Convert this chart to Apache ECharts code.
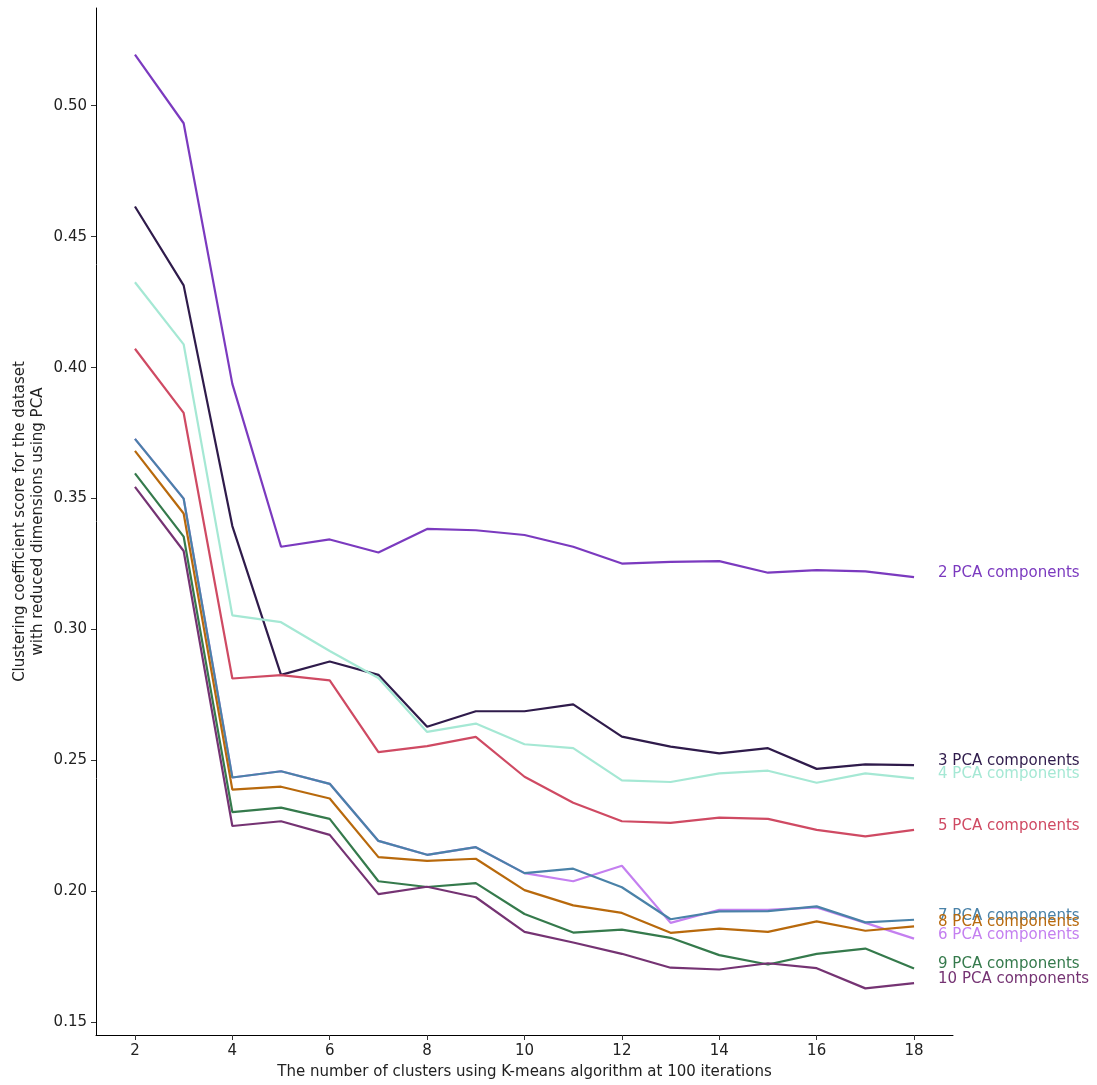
<!DOCTYPE html>
<html>
<head>
<meta charset="utf-8">
<script src="https://cdn.jsdelivr.net/npm/echarts@6/dist/echarts.min.js"></script>
<style>html,body{margin:0;padding:0;background:#fff;}#chart{width:1097px;height:1085px;}</style>
</head>
<body>
<div id="chart"></div>
<script>
var clusters = [2,3,4,5,6,7,8,9,10,11,12,13,14,15,16,17,18];
var xTicks = [2,4,6,8,10,12,14,16,18];
var yTicks = [0.15,0.20,0.25,0.30,0.35,0.40,0.45,0.50];
var seriesNames = ['2 PCA components','3 PCA components','4 PCA components','5 PCA components','6 PCA components','7 PCA components','8 PCA components','9 PCA components','10 PCA components'];
var colors = ['#7b3abf','#2f1b4b','#a5e8d4','#cf4a63','#c47ff0','#4a82a8','#b8690c','#357a4c','#753373'];

var pca2  = [0.5195,0.4933,0.3938,0.3316,0.3344,0.3294,0.3384,0.3379,0.3361,0.3316,0.3252,0.3258,0.3261,0.3217,0.3227,0.3222,0.3200];
var pca3  = [0.4615,0.4314,0.3395,0.2827,0.2878,0.2827,0.2629,0.2688,0.2688,0.2714,0.2591,0.2553,0.2527,0.2547,0.2468,0.2485,0.2482];
var pca4  = [0.4326,0.4089,0.3054,0.3028,0.2918,0.2815,0.2609,0.2641,0.2562,0.2547,0.2424,0.2418,0.2451,0.2461,0.2415,0.2451,0.2432];
var pca5  = [0.4072,0.3827,0.2813,0.2826,0.2806,0.2532,0.2555,0.2590,0.2438,0.2339,0.2268,0.2262,0.2282,0.2277,0.2235,0.2210,0.2235];
var pca6  = [0.3728,0.3500,0.2435,0.2459,0.2411,0.2193,0.2140,0.2169,0.2070,0.2039,0.2098,0.1880,0.1930,0.1930,0.1939,0.1880,0.1820];
var pca7  = [0.3728,0.3500,0.2435,0.2459,0.2411,0.2193,0.2140,0.2169,0.2070,0.2087,0.2016,0.1894,0.1924,0.1925,0.1943,0.1882,0.1892];
var pca8  = [0.3682,0.3443,0.2389,0.2400,0.2355,0.2131,0.2117,0.2125,0.2005,0.1947,0.1918,0.1842,0.1858,0.1846,0.1886,0.1850,0.1867];
var pca9  = [0.3596,0.3355,0.2303,0.2320,0.2277,0.2039,0.2017,0.2032,0.1914,0.1843,0.1854,0.1823,0.1757,0.1721,0.1762,0.1782,0.1706];
var pca10 = [0.3545,0.3300,0.2250,0.2268,0.2216,0.1990,0.2018,0.1978,0.1846,0.1805,0.1762,0.1709,0.1702,0.1726,0.1707,0.1630,0.1650];

var allValues = [pca2,pca3,pca4,pca5,pca6,pca7,pca8,pca9,pca10];
var FONT = 'DejaVu Sans';

var series = allValues.map(function(vals, i){
  return {
    name: seriesNames[i],
    type: 'line',
    data: clusters.map(function(c, j){ return [c, vals[j]]; }),
    showSymbol: false,
    symbol: 'none',
    lineStyle: { width: 2.2, color: colors[i] },
    itemStyle: { color: colors[i] },
    z: 2 + i,
    animation: false,
    endLabel: {
      show: true,
      formatter: '{a}',
      color: colors[i],
      fontFamily: FONT,
      fontSize: 15,
      distance: 24,
      offset: [0, -4]
    }
  };
});

var chart = echarts.init(document.getElementById('chart'), null, {renderer: 'canvas'});
chart.setOption({
  backgroundColor: '#ffffff',
  animation: false,
  grid: { left: 96, right: 144, top: 8, bottom: 48, containLabel: false },
  xAxis: {
    type: 'value',
    min: 1.2, max: 18.8,
    name: 'The number of clusters using K-means algorithm at 100 iterations',
    nameLocation: 'middle',
    nameGap: 30,
    nameMoveOverlap: false,
    nameTextStyle: { fontFamily: FONT, fontSize: 15, color: '#222' },
    axisLine: { show: true, lineStyle: { color: '#000', width: 1 } },
    axisTick: { show: true, length: 5, lineStyle: { color: '#333' }, customValues: xTicks },
    axisLabel: { fontFamily: FONT, fontSize: 15, color: '#222', margin: 9, customValues: xTicks,
      formatter: function(v){ return String(v); } },
    splitLine: { show: false }
  },
  yAxis: {
    type: 'value',
    min: 0.1452, max: 0.5373,
    name: 'Clustering coefficient score for the dataset\nwith reduced dimensions using PCA',
    nameLocation: 'middle',
    nameRotate: 90,
    nameGap: 49,
    nameMoveOverlap: false,
    nameTextStyle: { fontFamily: FONT, fontSize: 15, color: '#222', lineHeight: 18, align: 'center' },
    axisLine: { show: true, lineStyle: { color: '#000', width: 1 } },
    axisTick: { show: true, length: 5, lineStyle: { color: '#333' }, customValues: yTicks },
    axisLabel: { fontFamily: FONT, fontSize: 15, color: '#222', margin: 9, customValues: yTicks,
      formatter: function(v){ return v.toFixed(2); } },
    splitLine: { show: false }
  },
  series: series
});
</script>
</body>
</html>
